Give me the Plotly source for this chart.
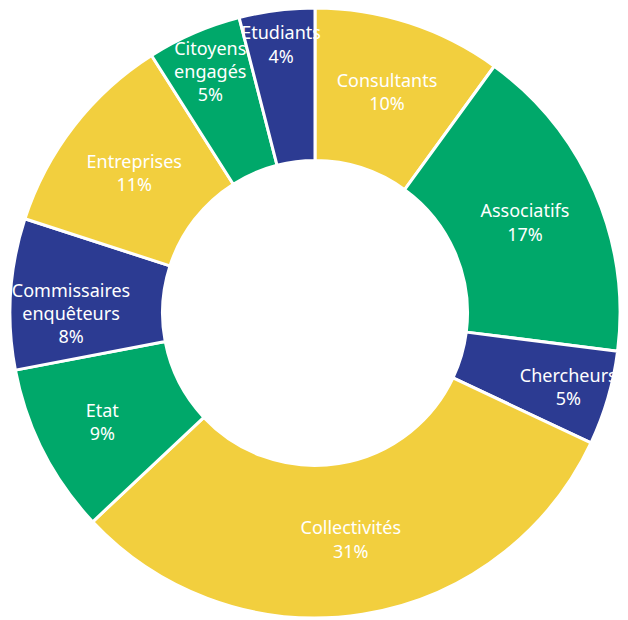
import plotly.graph_objects as go

labels = ["Consultants", "Associatifs", "Chercheurs", "Collectivités", "Etat",
          "Commissaires<br>enquêteurs", "Entreprises", "Citoyens<br>engagés", "Etudiants"]
values = [10, 17, 5, 31, 9, 8, 11, 5, 4]
YELLOW = "#F2CF3E"
GREEN = "#00A86A"
BLUE = "#2C3B92"
colors = [YELLOW, GREEN, BLUE, YELLOW, GREEN, BLUE, YELLOW, GREEN, BLUE]

fig = go.Figure(go.Pie(
    labels=labels,
    values=values,
    sort=False,
    direction="clockwise",
    rotation=0,
    hole=0.5,
    marker=dict(colors=colors, line=dict(color="white", width=3)),
    texttemplate="%{label}<br>%{value}%",
    textposition="inside",
    insidetextorientation="horizontal",
    textfont=dict(family="Noto Sans", size=18, color="white"),
    domain=dict(x=[2/628, 612/628], y=[10/620, 1.0]),
    showlegend=False,
))
fig.update_layout(
    width=628, height=620,
    margin=dict(l=0, r=0, t=0, b=0),
    paper_bgcolor="white",
    uniformtext=dict(minsize=18, mode="show"),
)
fig.write_html("out.html")
